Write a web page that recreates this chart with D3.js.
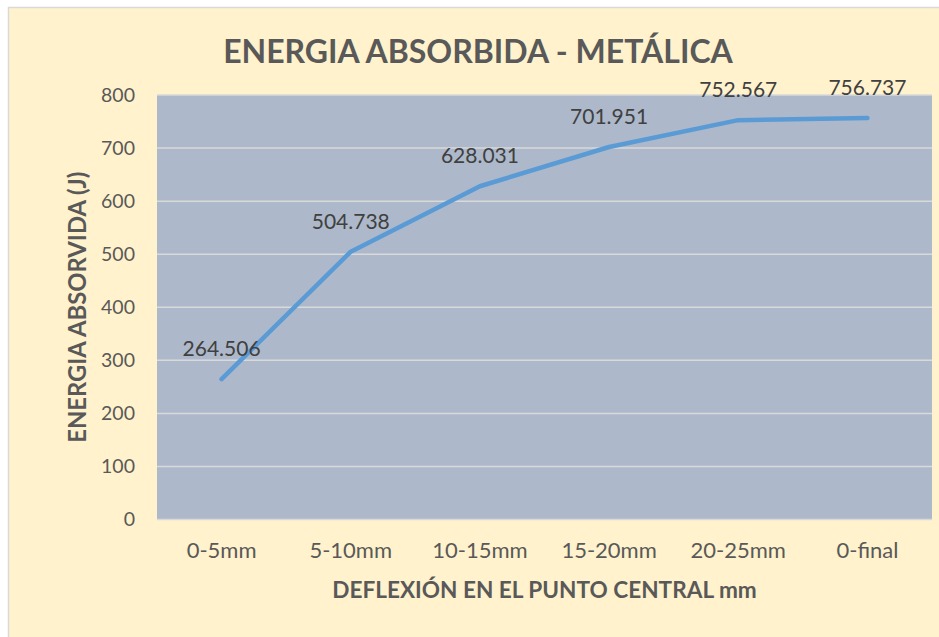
<!DOCTYPE html>
<html>
<head>
<meta charset="utf-8">
<script src="https://cdn.jsdelivr.net/npm/d3@7"></script>
<style>
  html, body { margin: 0; padding: 0; background: #ffffff; }
  svg { display: block; }
  text { font-family: Lato, "Open Sans", sans-serif; }
</style>
</head>
<body>
<svg id="chart" width="939" height="637"></svg>
<script>
// Energy absorbed per deflection interval
const categories = ["0-5mm", "5-10mm", "10-15mm", "15-20mm", "20-25mm", "0-final"];
const energy = [264.506, 504.738, 628.031, 701.951, 752.567, 756.737];
const yTicks = [0, 100, 200, 300, 400, 500, 600, 700, 800];
const chartTitle = "ENERGIA ABSORBIDA - METÁLICA";
const xTitle = "DEFLEXIÓN EN EL PUNTO CENTRAL mm";
const yTitle = "ENERGIA ABSORVIDA (J)";

const W = 939, H = 637;
const plot = { left: 157, right: 932, top: 95, bottom: 519.5 };

const svg = d3.select("#chart");

// chart frame
svg.append("rect").attr("x", 8.5).attr("y", 7.5).attr("width", W).attr("height", H)
  .attr("fill", "#FFF2CC").attr("stroke", "#D9D9D9").attr("stroke-width", 1.5);

const x = d3.scaleBand().domain(categories).range([plot.left, plot.right]).padding(0);
const y = d3.scaleLinear().domain([0, 800]).range([plot.bottom, plot.top]);

// plot area
svg.append("rect")
  .attr("x", plot.left).attr("y", plot.top)
  .attr("width", plot.right - plot.left).attr("height", plot.bottom - plot.top)
  .attr("fill", "#ADB9CA");

// horizontal gridlines
svg.append("g").selectAll("line").data(yTicks).join("line")
  .attr("x1", plot.left).attr("x2", plot.right)
  .attr("y1", d => y(d)).attr("y2", d => y(d))
  .attr("stroke", "#D9D9D9").attr("stroke-width", 1.5);

// y axis labels
const yAxis = svg.append("g").attr("transform", `translate(${plot.left},0)`)
  .call(d3.axisLeft(y).tickValues(yTicks).tickSize(0).tickPadding(22).tickFormat(d3.format("d")));
yAxis.select(".domain").remove();
yAxis.selectAll("text").attr("font-size", 19.5).attr("fill", "#595959")
  .style("font-family", "Lato, 'Open Sans', sans-serif");

// x axis labels
const xAxis = svg.append("g").attr("transform", `translate(0,${plot.bottom})`)
  .call(d3.axisBottom(x).tickSize(0).tickPadding(23));
xAxis.select(".domain").remove();
xAxis.selectAll("text").attr("font-size", 22).attr("fill", "#595959")
  .style("font-family", "Lato, 'Open Sans', sans-serif");

// series line
const line = d3.line()
  .x((d, i) => x(categories[i]) + x.bandwidth() / 2)
  .y(d => y(d));
svg.append("path").datum(energy)
  .attr("d", line)
  .attr("fill", "none").attr("stroke", "#5B9BD5")
  .attr("stroke-width", 4.5).attr("stroke-linecap", "round").attr("stroke-linejoin", "round");

// data labels
svg.append("g").selectAll("text").data(energy).join("text")
  .attr("x", (d, i) => x(categories[i]) + x.bandwidth() / 2)
  .attr("y", d => y(d) - 23)
  .attr("text-anchor", "middle")
  .attr("font-size", 21).attr("fill", "#404040")
  .text(d => d3.format(".3f")(d));

// titles
svg.append("text").attr("x", 478).attr("y", 63).attr("text-anchor", "middle")
  .attr("font-size", 32).attr("font-weight", "bold").attr("fill", "#595959")
  .text(chartTitle);

svg.append("text").attr("x", (plot.left + plot.right) / 2).attr("y", 598).attr("text-anchor", "middle")
  .attr("font-size", 22.6).attr("font-weight", "bold").attr("fill", "#595959")
  .text(xTitle);

svg.append("text")
  .attr("transform", `translate(86,${(plot.top + plot.bottom) / 2}) rotate(-90)`)
  .attr("text-anchor", "middle")
  .attr("font-size", 23.8).attr("font-weight", "bold").attr("fill", "#595959")
  .text(yTitle);
</script>
</body>
</html>
